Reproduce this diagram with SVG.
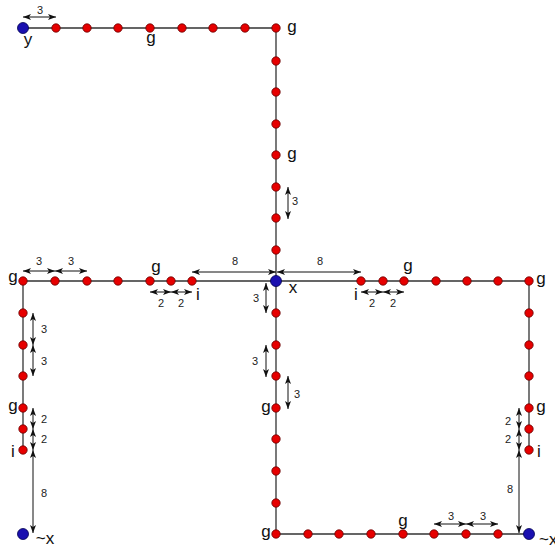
<svg xmlns="http://www.w3.org/2000/svg" width="555" height="551" viewBox="0 0 555 551">
<style>
.ln{stroke:#333;stroke-width:1.3;fill:none}
.dim{stroke:#111;stroke-width:1;fill:none;marker-start:url(#ah);marker-end:url(#ah)}
.r{fill:#e60000;stroke:#600;stroke-width:0.8}
.b{fill:#1a10b0;stroke:#000050;stroke-width:0.8}
.lb{font-family:"Liberation Sans",Arial,sans-serif;font-size:17px;fill:#111;text-anchor:middle}
.nb{font-family:"Liberation Sans",Arial,sans-serif;font-size:11px;fill:#222;text-anchor:middle}
</style>
<defs>
<marker id="ah" markerUnits="userSpaceOnUse" markerWidth="9" markerHeight="8" refX="8" refY="3" orient="auto-start-reverse" viewBox="0 0 9 6">
<path d="M0,0 L8,3 L0,6 L2,3 z" fill="#111"/>
</marker>
</defs>
<g id="connectors">
<path class="ln" d="M23,28 H276 V534 H529"/>
<path class="ln" d="M23,281 H529 V450"/>
<path class="ln" d="M23,281 V450"/>
</g>
<g id="dims">
<path class="dim" d="M23,17 H56"/>
<path class="dim" d="M288,187 V219"/>
<path class="dim" d="M23,271 H55"/>
<path class="dim" d="M55,271 H87"/>
<path class="dim" d="M150,292 H171"/>
<path class="dim" d="M171,292 H192"/>
<path class="dim" d="M192,272 H276"/>
<path class="dim" d="M277,272 H361"/>
<path class="dim" d="M266,283 V313"/>
<path class="dim" d="M361,292 H383"/>
<path class="dim" d="M383,292 H404"/>
<path class="dim" d="M33,313 V345"/>
<path class="dim" d="M33,345 V376"/>
<path class="dim" d="M33,408 V429"/>
<path class="dim" d="M33,429 V450"/>
<path class="dim" d="M33,450 V533"/>
<path class="dim" d="M266,345 V377"/>
<path class="dim" d="M288,376 V409"/>
<path class="dim" d="M519,408 V429"/>
<path class="dim" d="M519,429 V450"/>
<path class="dim" d="M519,450 V533"/>
<path class="dim" d="M434,524 H466"/>
<path class="dim" d="M466,524 H498"/>
<text class="nb" x="40" y="14">3</text>
<text class="nb" x="295" y="205">3</text>
<text class="nb" x="39" y="265">3</text>
<text class="nb" x="71" y="265">3</text>
<text class="nb" x="161" y="307">2</text>
<text class="nb" x="181" y="307">2</text>
<text class="nb" x="235" y="265">8</text>
<text class="nb" x="320" y="265">8</text>
<text class="nb" x="256" y="302">3</text>
<text class="nb" x="372" y="307">2</text>
<text class="nb" x="393" y="307">2</text>
<text class="nb" x="44" y="333">3</text>
<text class="nb" x="44" y="365">3</text>
<text class="nb" x="44" y="423">2</text>
<text class="nb" x="44" y="443">2</text>
<text class="nb" x="44" y="497">8</text>
<text class="nb" x="255" y="365">3</text>
<text class="nb" x="297" y="398">3</text>
<text class="nb" x="508" y="425">2</text>
<text class="nb" x="508" y="443">2</text>
<text class="nb" x="510" y="493">8</text>
<text class="nb" x="451" y="520">3</text>
<text class="nb" x="483" y="520">3</text>
</g>
<g id="n-y"><circle class="b" cx="23" cy="28" r="5.5"/><text class="lb" x="28" y="45">y</text></g>
<g id="n-t1"><circle class="r" cx="56" cy="28" r="4.2"/></g>
<g id="n-t2"><circle class="r" cx="87" cy="28" r="4.2"/></g>
<g id="n-t3"><circle class="r" cx="118" cy="28" r="4.2"/></g>
<g id="n-t4"><circle class="r" cx="150" cy="28" r="4.2"/><text class="lb" x="151" y="43">g</text></g>
<g id="n-t5"><circle class="r" cx="182" cy="28" r="4.2"/></g>
<g id="n-t6"><circle class="r" cx="213" cy="28" r="4.2"/></g>
<g id="n-t7"><circle class="r" cx="245" cy="28" r="4.2"/></g>
<g id="n-t8"><circle class="r" cx="276" cy="28" r="4.2"/><text class="lb" x="292" y="32">g</text></g>
<g id="n-v1"><circle class="r" cx="276" cy="61" r="4.2"/></g>
<g id="n-v2"><circle class="r" cx="276" cy="92" r="4.2"/></g>
<g id="n-v3"><circle class="r" cx="276" cy="124" r="4.2"/></g>
<g id="n-v4"><circle class="r" cx="276" cy="155" r="4.2"/><text class="lb" x="292" y="159">g</text></g>
<g id="n-v5"><circle class="r" cx="276" cy="187" r="4.2"/></g>
<g id="n-v6"><circle class="r" cx="276" cy="218" r="4.2"/></g>
<g id="n-v7"><circle class="r" cx="276" cy="250" r="4.2"/></g>
<g id="n-x"><circle class="b" cx="276" cy="281" r="5.5"/><text class="lb" x="293" y="293">x</text></g>
<g id="n-ml1"><circle class="r" cx="23" cy="281" r="4.2"/><text class="lb" x="13" y="282">g</text></g>
<g id="n-ml2"><circle class="r" cx="55" cy="281" r="4.2"/></g>
<g id="n-ml3"><circle class="r" cx="87" cy="281" r="4.2"/></g>
<g id="n-ml4"><circle class="r" cx="118" cy="281" r="4.2"/></g>
<g id="n-ml5"><circle class="r" cx="150" cy="281" r="4.2"/><text class="lb" x="156" y="272">g</text></g>
<g id="n-ml6"><circle class="r" cx="171" cy="281" r="4.2"/></g>
<g id="n-ml7"><circle class="r" cx="192" cy="281" r="4.2"/><text class="lb" x="198" y="300">i</text></g>
<g id="n-mr1"><circle class="r" cx="361" cy="281" r="4.2"/><text class="lb" x="356" y="300">i</text></g>
<g id="n-mr2"><circle class="r" cx="383" cy="281" r="4.2"/></g>
<g id="n-mr3"><circle class="r" cx="404" cy="281" r="4.2"/><text class="lb" x="408" y="271">g</text></g>
<g id="n-mr4"><circle class="r" cx="436" cy="281" r="4.2"/></g>
<g id="n-mr5"><circle class="r" cx="467" cy="281" r="4.2"/></g>
<g id="n-mr6"><circle class="r" cx="498" cy="281" r="4.2"/></g>
<g id="n-mr7"><circle class="r" cx="529" cy="281" r="4.2"/><text class="lb" x="541" y="284">g</text></g>
<g id="n-l1"><circle class="r" cx="23" cy="313" r="4.2"/></g>
<g id="n-l2"><circle class="r" cx="23" cy="345" r="4.2"/></g>
<g id="n-l3"><circle class="r" cx="23" cy="376" r="4.2"/></g>
<g id="n-l4"><circle class="r" cx="23" cy="408" r="4.2"/><text class="lb" x="13" y="411">g</text></g>
<g id="n-l5"><circle class="r" cx="23" cy="429" r="4.2"/></g>
<g id="n-l6"><circle class="r" cx="23" cy="450" r="4.2"/><text class="lb" x="13" y="457">i</text></g>
<g id="n-nxl"><circle class="b" cx="23" cy="534" r="5.5"/><text class="lb" x="45" y="544">~x</text></g>
<g id="n-c1"><circle class="r" cx="276" cy="313" r="4.2"/></g>
<g id="n-c2"><circle class="r" cx="276" cy="345" r="4.2"/></g>
<g id="n-c3"><circle class="r" cx="276" cy="376" r="4.2"/></g>
<g id="n-c4"><circle class="r" cx="276" cy="408" r="4.2"/><text class="lb" x="266" y="412">g</text></g>
<g id="n-c5"><circle class="r" cx="276" cy="439" r="4.2"/></g>
<g id="n-c6"><circle class="r" cx="276" cy="471" r="4.2"/></g>
<g id="n-c7"><circle class="r" cx="276" cy="503" r="4.2"/></g>
<g id="n-c8"><circle class="r" cx="276" cy="534" r="4.2"/><text class="lb" x="266" y="537">g</text></g>
<g id="n-b1"><circle class="r" cx="308" cy="534" r="4.2"/></g>
<g id="n-b2"><circle class="r" cx="339" cy="534" r="4.2"/></g>
<g id="n-b3"><circle class="r" cx="371" cy="534" r="4.2"/></g>
<g id="n-b4"><circle class="r" cx="403" cy="534" r="4.2"/><text class="lb" x="403" y="526">g</text></g>
<g id="n-b5"><circle class="r" cx="434" cy="534" r="4.2"/></g>
<g id="n-b6"><circle class="r" cx="466" cy="534" r="4.2"/></g>
<g id="n-b7"><circle class="r" cx="498" cy="534" r="4.2"/></g>
<g id="n-nxr"><circle class="b" cx="529" cy="534" r="5.5"/><text class="lb" x="539" y="545" style="text-anchor:start">~x</text></g>
<g id="n-r1"><circle class="r" cx="529" cy="313" r="4.2"/></g>
<g id="n-r2"><circle class="r" cx="529" cy="345" r="4.2"/></g>
<g id="n-r3"><circle class="r" cx="529" cy="376" r="4.2"/></g>
<g id="n-r4"><circle class="r" cx="529" cy="408" r="4.2"/><text class="lb" x="541" y="412">g</text></g>
<g id="n-r5"><circle class="r" cx="529" cy="429" r="4.2"/></g>
<g id="n-r6"><circle class="r" cx="529" cy="450" r="4.2"/><text class="lb" x="539" y="457">i</text></g>
</svg>
